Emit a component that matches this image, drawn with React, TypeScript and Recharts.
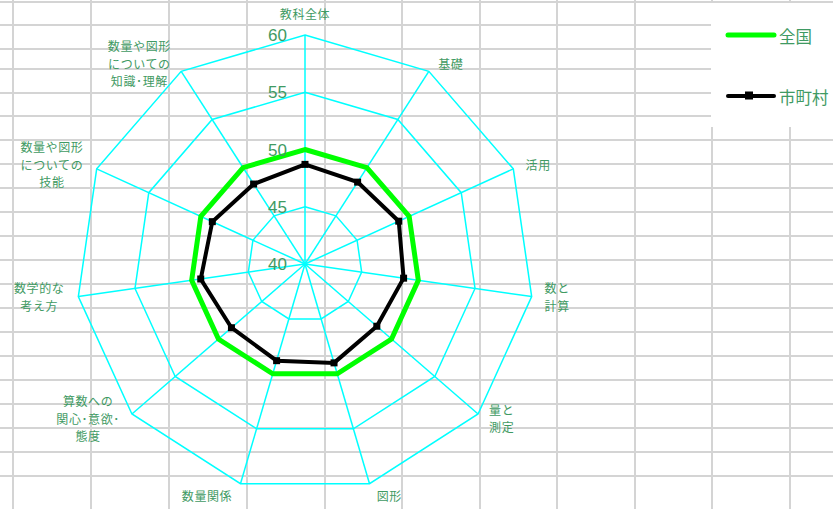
import {
  Legend,
  PolarAngleAxis,
  PolarGrid,
  PolarRadiusAxis,
  Radar,
  RadarChart,
} from "recharts";

// 観点別の偏差値（全国 = 50）
const categories = [
  "教科全体",
  "基礎",
  "活用",
  "数と\n計算",
  "量と\n測定",
  "図形",
  "数量関係",
  "算数への\n関心･意欲･\n態度",
  "数学的な\n考え方",
  "数量や図形\nについての\n技能",
  "数量や図形\nについての\n知識･理解",
];
const nationalScores = [50, 50, 50, 50, 50, 50, 50, 50, 50, 50, 50];
const cityScores = [48.7, 48.5, 49.0, 48.7, 48.3, 49.0, 48.8, 48.5, 49.2, 48.9, 48.3];
const radiusTicks = [40, 45, 50, 55, 60];
const seriesNames = ["全国", "市町村"];
const seriesColors = ["#00ff00", "#000000"];

const data = categories.map((subject, i) => ({
  subject,
  national: nationalScores[i],
  city: cityScores[i],
}));

const W = 833;
const H = 509;
const CX = 305;
const CY = 264;
const R = 229;
const LABEL_COLOR = "#3f9a63";
const JP_FONT = '"Noto Sans CJK JP", "Noto Sans", sans-serif';

// spreadsheet cells behind the chart
const sheetCols = [13, 91, 169, 247, 325, 402, 480, 557, 635, 712, 790];
const sheetRows = [2, 25, 49, 69, 93, 116, 140, 164, 188, 212, 236, 260, 284, 308, 332, 356, 380, 404, 428, 452, 476];

const LABEL_FS = 12;
const LABEL_SPACING = 0.6;
const lineWidth = (s: string) =>
  Array.from(s).reduce((w, c) => w + (c === "･" ? LABEL_FS * 0.5 : LABEL_FS) + LABEL_SPACING, 0);

function AngleTick(props: any) {
  const { x, y, textAnchor, payload } = props;
  const lines = String(payload.value).split("\n");
  const lh = 17.5;
  let anchor = textAnchor;
  let tx = x;
  if (textAnchor === "start") {
    tx = x + 5;
  } else if (textAnchor === "end") {
    const block = Math.max(...lines.map(lineWidth));
    tx = x - 6 - block / 2;
    anchor = "middle";
  }
  let ty = y - ((lines.length - 1) * lh) / 2;
  if (y < CY - R) ty -= 12;
  if (y > CY + R * 0.9) ty += 5;
  return (
    <text
      textAnchor={anchor}
      fill={LABEL_COLOR}
      fontSize={LABEL_FS}
      letterSpacing={LABEL_SPACING}
      fontFamily={JP_FONT}
    >
      {lines.map((line, i) => (
        <tspan key={i} x={tx} y={ty + i * lh} dy="0.36em">
          {line}
        </tspan>
      ))}
    </text>
  );
}

function RadiusTick(props: any) {
  const { x, y, payload } = props;
  return (
    <text
      x={x - 18}
      y={y}
      dy="0.36em"
      textAnchor="end"
      fill={LABEL_COLOR}
      fontSize={17}
      fontFamily='"Liberation Sans", Arial, sans-serif'
    >
      {payload.value}
    </text>
  );
}

function SquareDot(props: any) {
  const { cx, cy } = props;
  if (cx == null || cy == null) return null;
  return <rect x={cx - 3.5} y={cy - 3.5} width={7} height={7} fill="#000" />;
}

function LegendBox() {
  return (
    <svg width={122} height={124} style={{ display: "block", background: "#fff" }}>
      {seriesNames.map((name, i) => {
        const y = i === 0 ? 32 : 93;
        return (
          <g key={name}>
            <line
              x1={17}
              y1={y}
              x2={63}
              y2={y}
              stroke={seriesColors[i]}
              strokeWidth={i === 0 ? 5 : 4}
              strokeLinecap="round"
            />
            {i === 1 && <rect x={34} y={y - 4.5} width={8} height={8} fill="#000" />}
            <text
              x={68}
              y={y + 2}
              dy="0.36em"
              fill={LABEL_COLOR}
              fontSize={16.5}
              fontFamily={JP_FONT}
            >
              {name}
            </text>
          </g>
        );
      })}
    </svg>
  );
}

export default function App() {
  return (
    <div style={{ position: "absolute", left: 0, top: 0, width: W, height: H, background: "#fff", overflow: "hidden" }}>
      <svg width={W} height={H} style={{ position: "absolute", left: 0, top: 0 }}>
        {sheetCols.map((x) => (
          <line key={`c${x}`} x1={x} y1={0} x2={x} y2={H} stroke="#d4d4d4" strokeWidth={2} />
        ))}
        {sheetRows.map((y) => (
          <line key={`r${y}`} x1={0} y1={y} x2={W} y2={y} stroke="#d4d4d4" strokeWidth={2} />
        ))}
      </svg>
      <div style={{ position: "absolute", left: 0, top: 0 }}>
        <RadarChart
          width={W}
          height={H}
          data={data}
          cx={CX}
          cy={CY}
          outerRadius={R}
          margin={{ top: 0, right: 0, bottom: 0, left: 0 }}
        >
          <PolarGrid gridType="polygon" stroke="#00ffff" strokeWidth={1.5} />
          <PolarAngleAxis dataKey="subject" tick={AngleTick} tickLine={false} axisLine={false} />
          <PolarRadiusAxis
            angle={90}
            domain={[40, 60]}
            ticks={radiusTicks as any}
            tickCount={5}
            axisLine={false}
            tickLine={false}
            tick={RadiusTick}
          />
          <Radar
            name={seriesNames[0]}
            dataKey="national"
            stroke={seriesColors[0]}
            strokeWidth={5}
            fill="transparent"
            fillOpacity={0}
            dot={false}
            isAnimationActive={false}
          />
          <Radar
            name={seriesNames[1]}
            dataKey="city"
            stroke={seriesColors[1]}
            strokeWidth={4}
            fill="transparent"
            fillOpacity={0}
            dot={SquareDot}
            isAnimationActive={false}
          />
          <Legend
            content={() => <LegendBox />}
            wrapperStyle={{ position: "absolute", left: 711, top: 3, width: 122, height: 124 }}
          />
        </RadarChart>
      </div>
    </div>
  );
}
